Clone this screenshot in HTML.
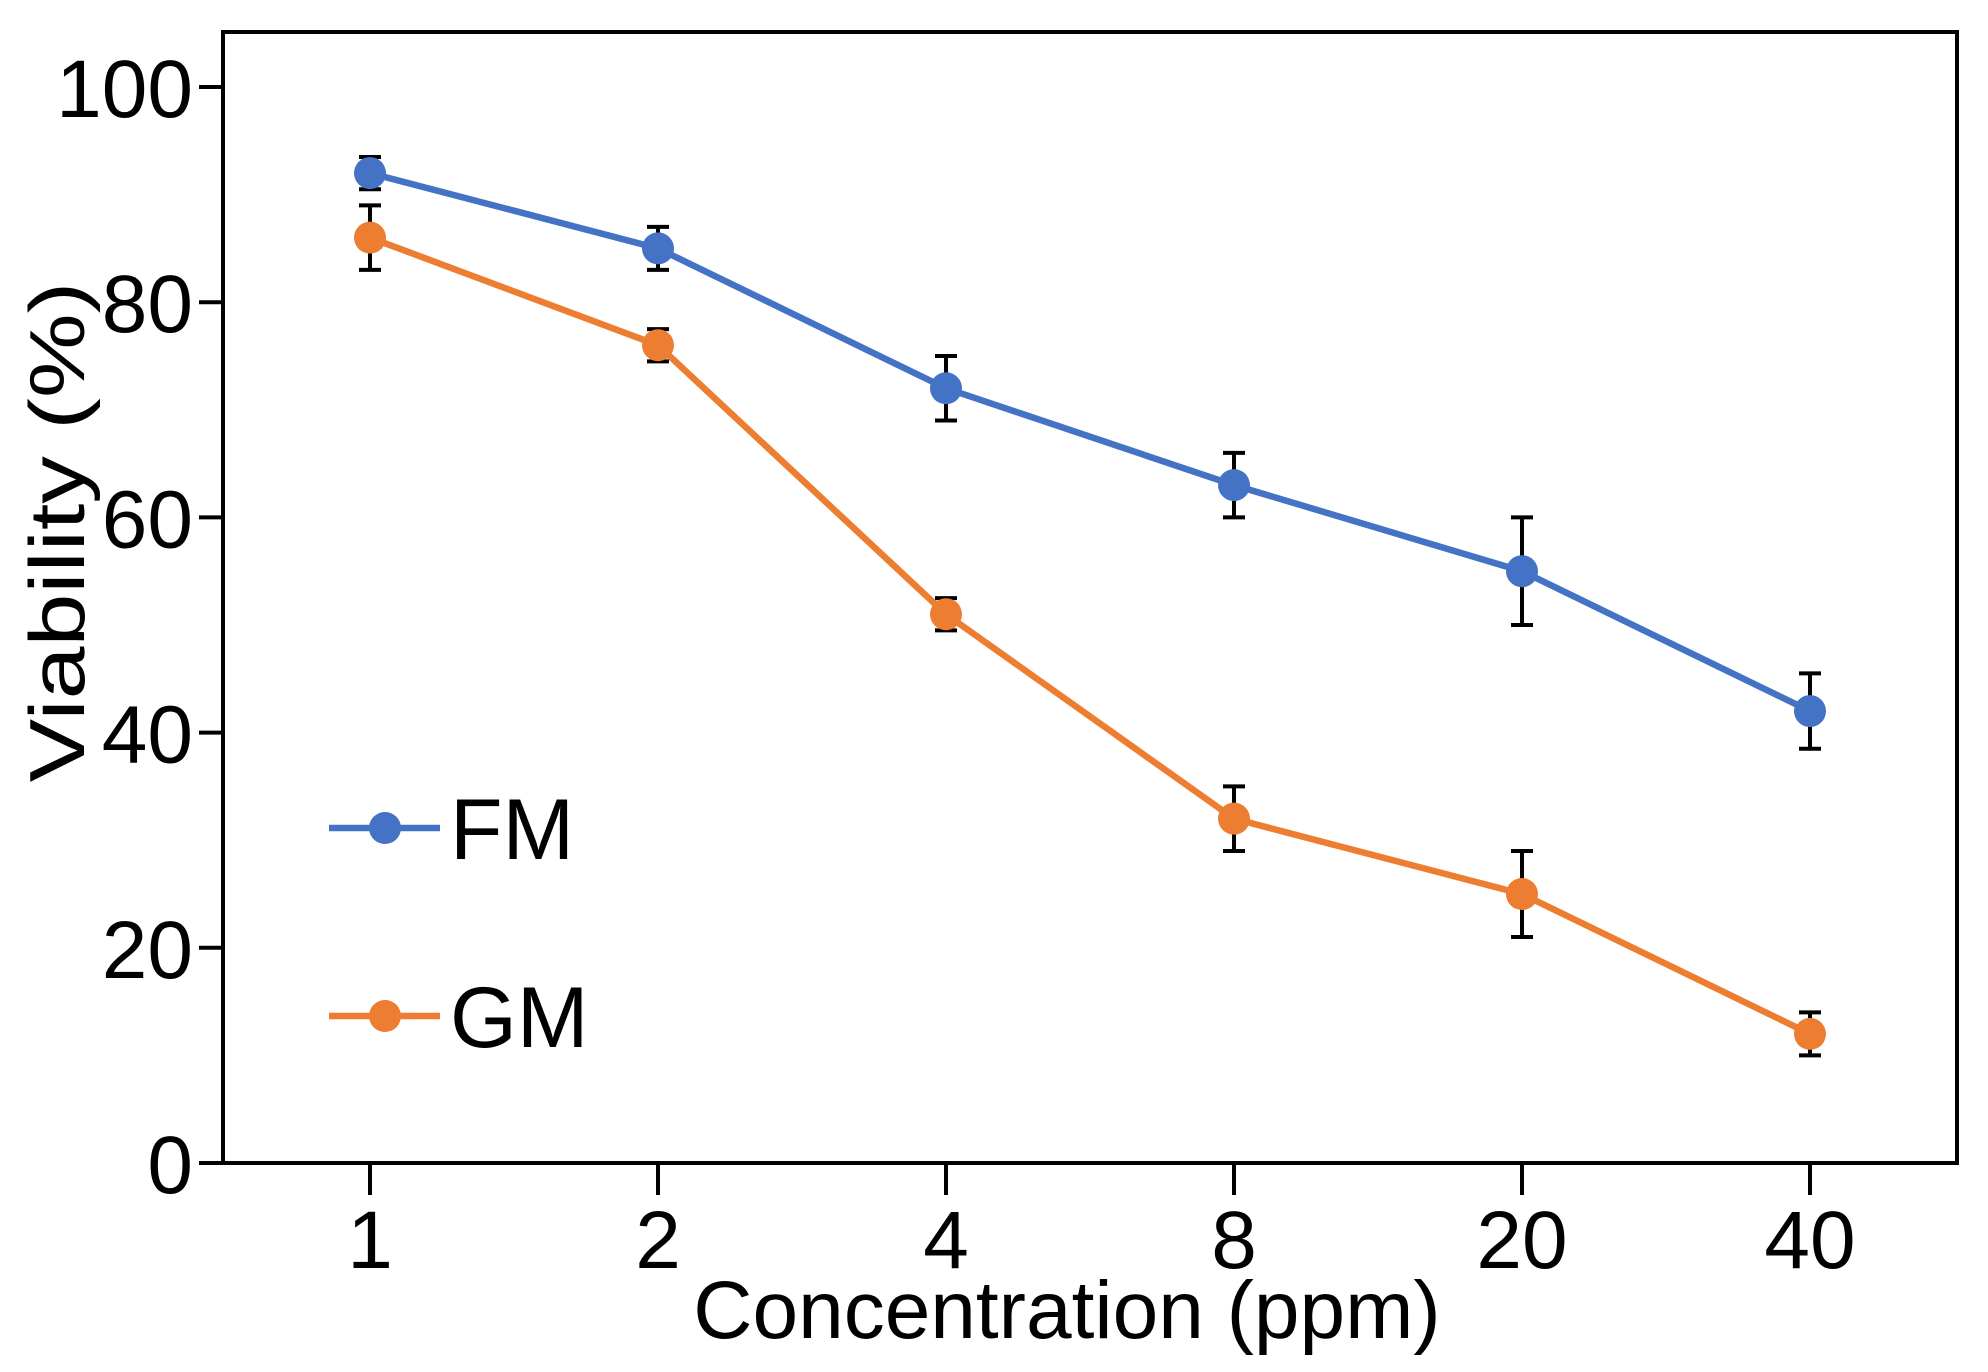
<!DOCTYPE html>
<html><head><meta charset="utf-8"><style>
html,body{margin:0;padding:0;background:#fff;}
svg{display:block;font-family:"Liberation Sans",Arial,sans-serif;}
</style></head><body>
<svg id="chart" width="1988" height="1372" viewBox="0 0 1988 1372" xmlns="http://www.w3.org/2000/svg"></svg>
<script>
const categories = ["1","2","4","8","20","40"];
const fmValues = [92,85,72,63,55,42];
const fmErrors = [1.5,2,3,3,5,3.5];
const gmValues = [86,76,51,32,25,12];
const gmErrors = [3,1.5,1.5,3,4,2];
const yTicks = [0,20,40,60,80,100];

const L=223,R=1957,T=32,B=1163;
const X0=370,DX=288;
function xScale(i){return X0+DX*i;}
function yScale(v){return B-(B-87)*v/100;}
const NS="http://www.w3.org/2000/svg";
const svg=document.getElementById('chart');
function mk(tag,attrs,parent){const e=document.createElementNS(NS,tag);for(const k in attrs)e.setAttribute(k,attrs[k]);(parent||svg).appendChild(e);return e;}

const frame=mk('rect',{x:L,y:T,width:R-L,height:B-T,fill:'none',stroke:'#000','stroke-width':4});



yTicks.forEach(v=>{
  const y=yScale(v);
  const t=mk('line',{x1:L-24,x2:L,y1:y,y2:y,stroke:'#000','stroke-width':4});
  
  
  const lb=mk('text',{x:L-30,y:y+30,'text-anchor':'end','font-size':82,fill:'#000'});
  lb.textContent=v;
  
  
});
categories.forEach((c,i)=>{
  const x=xScale(i);
  const t=mk('line',{x1:x,x2:x,y1:B,y2:B+32,stroke:'#000','stroke-width':4});
  
  
  const lb=mk('text',{x:x,y:1268,'text-anchor':'middle','font-size':82,fill:'#000'});
  lb.textContent=c;
  
  
});
const xt=mk('text',{x:1067,y:1338,'text-anchor':'middle','font-size':82,fill:'#000'});
xt.textContent='Concentration (ppm)';


const yt=mk('text',{x:0,y:0,'text-anchor':'middle','font-size':78,fill:'#000',transform:'translate(84,532) rotate(-90) scale(1.22,1)'});
yt.textContent='Viability (%)';



function series(vals,errs,color,name){
  const g=mk('g',{});
  
  
  const pts=vals.map((v,i)=>xScale(i)+','+yScale(v)).join(' ');
  const pl=mk('polyline',{points:pts,fill:'none',stroke:color,'stroke-width':6.5},g);
  
  
  vals.forEach((v,i)=>{
    const x=xScale(i),y1=yScale(v+errs[i]),y2=yScale(v-errs[i]);
    const eb=mk('path',{d:`M${x-11},${y1}H${x+11}M${x},${y1}V${y2}M${x-11},${y2}H${x+11}`,stroke:'#000','stroke-width':4,fill:'none'},g);
    
    
    const c=mk('circle',{cx:x,cy:yScale(v),r:16,fill:color},g);
    
    
  });
}
series(fmValues,fmErrors,'#4472C4','fm');
series(gmValues,gmErrors,'#ED7D31','gm');

function legend(y,color,label){
  const g=mk('g',{});
  
  
  mk('line',{x1:329,x2:440,y1:y,y2:y,stroke:color,'stroke-width':6.5},g);
  mk('circle',{cx:385,cy:y,r:16,fill:color},g);
  const t=mk('text',{x:450,y:y+31,'font-size':86,fill:'#000'},g);
  t.textContent=label;
}
legend(828,'#4472C4','FM');
legend(1016,'#ED7D31','GM');
</script>
</body></html>
